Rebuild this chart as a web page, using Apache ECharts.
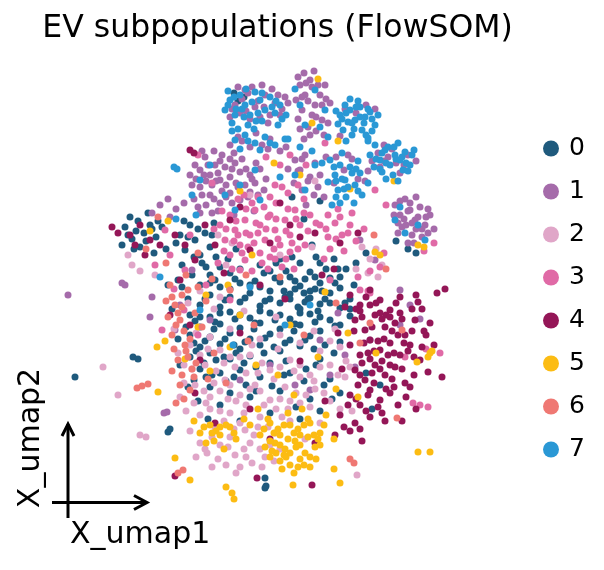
<!DOCTYPE html>
<html>
<head>
<meta charset="utf-8">
<script src="https://cdn.jsdelivr.net/npm/echarts@6/dist/echarts.min.js"></script>
<style>
  html, body { margin: 0; padding: 0; background: #fff; }
  #chart { width: 604px; height: 570px; }
</style>
</head>
<body>
<div id="chart"></div>
<script>
// cluster labels and colours (FlowSOM)
var clusterNames = ['0', '1', '2', '3', '4', '5', '6', '7'];
var clusterColors = ['#1f5a7d', '#a56baa', '#e0a6c8', '#e06aa6', '#941657', '#fcbc13', '#ef7873', '#2a98d5'];

// UMAP coordinates, one list per cluster
var pts0 = [
  [10,22],[12,22.2],[16,22.4],[18,21.8],[20,22.3],[22,21.7],
  [9,21],[11,20.8],[13,21.2],[15,20.8],[17,21.3],[19,20.9],[21,21.2],[23,20.7],
  [10,20],[12,19.8],[14,20.2],[16,19.6],[18,20.1],[20,19.7],[22,20.2],[24,19.6],
  [9,19],[11,18.8],[13,19.3],[15,18.9],[17,19.2],[19,18.6],[21,19.1],[23,18.7],
  [8,18],[10,17.8],[12,18.3],[14,17.7],[16,18.2],[18,17.6],[20,18.1],[22,17.5],[24,17.9],
  [9,16.8],[11,17.1],[13,16.7],[15,17.2],[17,16.6],[19,17],[21,16.4],
  [8,16],[10,15.8],[12,16.2],[14,15.6],[16,16.1],[18,15.5],[20,15.9],[23,15.3],
  [9,14.8],[11,15.1],[13,14.6],[15,15],[17,14.4],[19,14.9],
  [8,13.8],[10,14.2],[12,13.6],[14,13.9],[16,13.2],[21,13.6],
  [9,12.6],[11,12.2],[13,12.5],[15,11.8],[18,12.2],[22,11.6],[10,10.8],[12,10.2],[14,9.8],
  [17,10.4],[20,9.6],[23,10.2],[8.4,11.5],[11,9],[16,8.2],[19,7.6],[21,8.4],[13,7.4],
  [10.5,21.5],[12.5,21.6],[14.5,21.4],[16.5,21.7],[18.5,21.4],[20.5,21.8],[22.5,21.2],
  [9.5,19.6],[11.5,19.5],[13.5,19.7],[15.5,19.4],[17.5,19.8],[19.5,19.3],[21.5,19.6],[23.5,19.2],
  [8.5,17.4],[10.5,17.3],[12.5,17.6],[14.5,17.2],[16.5,17.5],[18.5,17.1],[20.5,17.3],[22.5,16.9],
  [9.5,15.4],[11.5,15.6],[13.5,15.3],[15.5,15.7],[17.5,15.2],[19.5,15.5],[21.5,15],
  [8.6,14.4],[10.6,13.5],[12.6,14.2],[14.6,12.8],[17.6,13.4],[19.6,12.6],[11.6,11.4],[13.6,11],[16.2,10.9],[9.6,11.8],
  [7.6,16.8],[7.8,19.6],[16.6,23.2],[18.2,23.8],[22.8,22.6],[20.2,25],[17.4,20.4],[19.4,20.2],[21.2,20.4],[15.4,22.2],
  [11,22.8],[13,22.6],[15,23],[17,23.6],[21,23.2],[23,21.8],[24.4,21],
  [10,21.2],[12,20.6],[14,21],[16,20.4],[18,19.6],[20,20.4],[22,19.2],[24,18.6],
  [9,17.8],[11,18.2],[13,18],[15,18.4],[17,18],[19,18.2],[21,17.8],[23,17],
  [8.4,15.2],[10.4,16.6],[12.4,15],[14.4,16.6],[16.4,14.8],[18.4,16.4],[20.4,14.6],[22.4,14.2],
  [9.4,13.2],[11.4,13.8],[13.4,13.2],[15.4,14.2],[17.4,12],[19.4,11.4],[21.4,11],[10.2,12],[12.4,11.8],[14.6,10.4],
  [18.6,8.8],[22.2,9.6],[20.6,13],
  [6.8,15.6],[7,13],[7.8,10.8],[8.8,9.4],[9.8,7.6],[7.2,20.8],[6.2,18.6],[5.8,21],
  [7,26],[7.5,24.5],[8,27],[8.5,25.5],[9,24],[9.5,26.2],[10,24.8],[7.2,23],[8.2,22],[9.6,22.8],[10.4,27.2],[6.8,21.5],
  [7.8,25.8],[8.8,26.6],[9.2,23.2],[10.2,26],[7.4,27.4],[8.4,23.8],[6.6,25.2],
  [1.5,26.8],[2.2,25.6],[2.8,27.4],[3.4,26.2],[4,27],[4.6,25.8],[5.2,26.8],[3,24.8],[1.2,25],[4.4,24.2],[2,27.8],[5.6,24.6],[3.8,28.2],
  [2.6,26.4],[3.6,25.4],[4.8,27.4],[1.8,26],[4.2,26.6],[2.4,24.6],
  [18.5,20.6],[19.5,21.6],[20.5,20.6],[19.8,19.6],[18.8,18.8],[20.8,18.4],[17.6,22.4],[21.6,22.6],[19,23.2],[20.6,23.8],
  [11.8,23.6],[12.6,24.6],[10.6,23.8],[22.4,23.6],[23.6,22.6],[24.6,23.2],[25.6,24.2],
  [29.8,24.6],[30.6,24.2],[28.6,25.4],[12.8,39.4],[13.4,39.8],[12.4,40.2],[19.4,27.6],[21,29.4],[18.2,29.8],
  [2.3,13.8],[2.8,13.6],[5.8,6.3],[6,6.6],[15.5,0.7],[15.6,0.9],[15.5,1.7],[-3.5,11.8],
  [25.6,12.2],[27,11],[26.2,8.6]
];
var pts1 = [
  [12.5,39],[13.5,40.5],[14.5,38.8],[15.5,40],[16.5,39.2],[17.5,39.8],[13,38.2],[15,37.8],[16,38],[14,37.6],[12,37.8],
  [13.2,39.6],[14.8,39.4],[16.2,40.6],[17.2,38.6],[12.8,40.8],[15.8,37.2],[14.2,40.8],
  [13.8,40.2],[15.2,41],[16.8,40],[17.8,39.2],[12.2,38.6],[13.6,38.4],[15.4,38.8],[17,38],
  [19,41],[19.5,40],[20,41.5],[20.5,39],[21,40],[21.5,41],[19.2,38.5],[20.2,38],[21.2,37.5],[19.8,36.8],[18.6,39.5],[22,39.2],[20.6,36.4],[19.4,35.6],
  [18.8,41.8],[19.6,41.2],[20.8,41],[21.6,39.6],[19.8,39.4],[20.6,37.8],[18.8,37.6],[21.8,37.2],[19.4,42.2],[20.4,42.4],
  [19.2,39.8],[20.2,40.8],[21.2,39],[20,36],[21.4,36],[19,36.6],
  [23.5,38.6],[24.6,38.2],[25.6,39],[23,35.9],[26.5,38.6],
  [12,35],[13.2,35.4],[14,34.8],[15.2,35],[16,35.6],[17,34.4],[14.6,36.2],[12.8,35.8],[15.8,34.6],[17.6,34.8],
  [26.8,34.2],[27.8,33.8],[28.6,33.2],[29.8,34],[27,32.8],[29,32.2],[30.6,33.4],[27.4,33.4],[28.2,34.6],[29.4,33],[26.2,33.4],
  [25.8,32.4],[23.8,34],[27.4,35],
  [8,32],[8.5,33],[9,32.5],[9.5,33.8],[10,32],[10.5,33],[11,31.5],[11.5,32.8],[12,31.8],[12.5,33.2],[13,32.3],[13.5,31],
  [14,32],[14.5,31.2],[15,32.6],[9,30.8],[10,30],[11,29.2],[12,30.2],[13,29.5],[14,30.3],[9.6,29],[10.8,28.4],[8.4,29.6],
  [15.4,30.5],[12.4,34.2],[11.2,34],[10.4,34.4],
  [8.6,31.6],[9.4,32],[10.6,31.4],[11.6,31],[12.6,31.2],[13.6,32.6],[14.6,33.2],[9.8,33],[11,33.4],[12.2,32.6],[10.4,29.6],
  [11.6,29.8],[12.8,30.8],[13.8,29.8],[8.8,28.8],[9.2,34.4],[14.8,30],
  [8.2,31],[9.2,30],[10.2,31],[11.2,30.4],[12.2,29.2],[13.2,33.6],[14.2,31.6],[10.8,32.2],[9.6,31.4],[12,33.6],[15.6,31.6],
  [9,28.2],[10.2,28.2],[12.4,28],[14.4,28.4],
  [18.5,33.5],[19,32.5],[19.5,34],[20,31.8],[20.5,33.2],[19.2,30.5],[20.4,30],[18.4,31.2],[21,32],[21.4,29.8],[19.6,29],
  [18.8,32.4],[19.8,31.4],[20.8,30.8],[19.2,33.6],[21.6,33.8],[17.8,32.6],
  [22.6,33.8],[23.4,32.5],[24.2,33.6],[24.8,31.6],[22.4,31.2],[25.5,31.4],
  [28.5,29],[29,28],[29.5,29.6],[30,28.5],[30.5,27.5],[31,28.8],[31.5,27],[29.2,26.8],[30.2,26],[31.2,25.8],[28.8,26.2],
  [32,28],[30.6,29.8],[29.8,25.2],[31.8,26.2],
  [29,29.4],[29.8,28.4],[30.8,27.8],[31.2,26.6],[30.2,27.2],[29.4,27.6],[31.8,28.6],[32.4,26.6],[28.4,28],[30.4,25.2],
  [29.6,27],[30.6,26.6],[31.6,27.8],[28.8,27.2],[30,29.2],
  [5,29],[5.8,29.6],[6.6,28.6],[7.4,29.2],[4.2,28.2],[6,27.8],
  [7,19],[6.5,16.5],[18.5,11],[20,10.5],[22,12],[23.5,14],[21,15.5],[24.5,12.8],[16,13],[13,11.5],[10,17.5],[26,15.5],
  [29,17],[31,17.6],[22.8,18.2],[8.2,22.5],[26.5,23.5],[25,25.5],
  [-4.2,20],[1.5,21],[1.2,21.2],[5.7,8.3],[5.4,8.2],[4.2,19.8],[4,17.8],[29,20.5],[30,19]
];
var pts2 = [
  [8,15],[9.5,13],[11,14.5],[12.5,12.8],[14,14],[16,12.5],[18,13.5],[20,12],[22,13],[8.5,11],[10,9.8],[11.5,11.5],
  [13,10],[14.5,11],[16,9.5],[17.5,10.8],[19,9.2],[20.5,10.6],[22,9.4],[23.5,11.8],[9,8],[10.5,6.8],[12,8.2],[13.5,6.5],
  [15,7.8],[16.5,6.2],[18,7.4],[11,5],[12.5,4],[14,5.2],[15.5,3.8],[17,4.6],[13,2.8],[9.5,4.6],[10,15.8],[12,16.6],
  [15,15.6],[17,16],[19,15.2],[21,14.4],[23,14.8],[24,12.8],[7.4,13],[7,9.8],[21,7.2],[19.5,5.6],[6.4,16.6],[7.8,19.2],
  [9,20.4],[11,19.8],[13.4,18.4],[16.6,17.8],[22.5,16.6],[24.2,8.4],
  [9,14],[10.6,12.4],[12,13.8],[13.6,12.2],[15.2,13.2],[17,12.8],[19,13],[21,12.8],[9.4,10.4],[11,10.4],[12.6,9.4],[14,10.6],
  [15.4,9],[17,9.6],[18.6,10.2],[20,8.8],[21.4,10.2],[10,8.6],[11.4,7.4],[13,7.2],[14.4,6],[15.8,6.8],[17.2,7.8],[12,5.8],
  [13.4,4.6],[15,4.6],[16.4,3.4],[10.2,5.8],[14.2,3.2],[8.2,12.6],[22.8,12],[23,8.6],
  [9.8,14.6],[11.4,13.2],[13,13.8],[14.8,12.2],[16.4,11.6],[18.4,12.4],[20.4,11.4],[10.4,11.2],[12,11],[13.6,9],[15,10.4],
  [16.6,8.6],[18,9.4],[19.6,10],[11,8.4],[12.4,6.6],[14.8,6.8],[16,5],[13.6,3.8],[11.8,4.8],[10.8,3.6],[15.2,2.8],[17.8,8.6],[19,11.8],
  [7.6,8.4],[8.4,9.2],[8,6.4],[9,5.2],[8.6,3.8],[10.2,2.8],[11.6,3],[12.6,2.2],[7.4,11.2],[9.6,9.2],[11.8,9.6],[13.4,8.2],
  [6.8,14.2],[8.6,16.2],[10.4,18.6],[14.2,15],[20.4,16.4],[22,15.4],[23.6,13.4],[16.8,14.6],
  [25.2,24.8],[26,23.6],[26.6,24.6],[27.2,23],[25.8,22.2],[26.8,21.8],[24.6,22.6],
  [10.8,26],[12.2,25.2],[11.6,23],[3,22.4],[4.5,22],[2.2,23],[1.8,24],[17,24],[20.2,24.8],[14,30],[20.5,31.4],
  [0.8,10],[9.7,4.2],[24.7,2],[3,6],[3.6,5.8],[-0.7,12.8]
];
var pts3 = [
  [11,27],[11.5,25.5],[12,28],[12.5,26.5],[13,25],[13.5,27.5],[14,26],[14.5,28.5],[15,27],[15.5,25.5],[16,28],[16.5,26.5],
  [17,25],[17.5,27.5],[18,26],[18.5,28.5],[12,24],[13.5,23.5],[15,24.2],[16.5,23.6],[18,24.3],[14.2,29.2],[16,29.8],
  [17.8,30.2],[19,27],[19.5,25],[10.8,23.2],[12.8,29.6],[15.8,22.6],[13,22.5],[17.2,22.8],[19.4,29.6],[20,28],[18.8,31],
  [11.6,26.6],[12.6,27.4],[13.6,26.2],[14.6,27.2],[15.6,26.6],[16.6,27.6],[17.6,26.4],[12.4,25.4],[14.4,25.2],[16.4,24.6],
  [18.2,25.2],[11.4,24.4],[13.2,24.2],[15.2,23.2],[17.6,23.6],[14.8,29.8],[16.6,29.2],[13.6,28.6],[18.6,27.6],[19.8,26.4],
  [21.6,26.6],[22.6,25.6],[23.8,26.2],
  [11.2,28.4],[12.8,26],[13.8,24.8],[14.8,26.2],[15.8,27.8],[16.8,25.6],[17.8,28.6],[18.8,24.6],[13.4,30],[15.4,28.8],
  [17.2,30.8],[19.4,28.2],[20.6,27.2],[21.8,28],[23,27.8],[12.2,22.6],[14.2,22.4],[16,23.8],[10.4,26.6],[18.4,22.6],
  [21,27],[21.8,25.8],[22.5,27.2],[23.2,26],[24,27],[24.6,25.4],[22,24.6],[23.4,24.4],[25.4,26.6],[21.4,23.6],[24.2,28.2],[22.8,28.6],
  [26,22.4],[27,22.8],[27.4,24.2],
  [18,34],[19.6,33],[17,33],[15.6,33.8],[16.5,31],[10.2,31.2],[8.8,34],[21.5,35.2],[26.5,30.5],[27.6,29],[31.4,24.4],[32.4,25.2],
  [6,24],[7.5,22.5],[4.5,23],[8,26],[5.5,26.5],
  [7.4,18.5],[6.4,20.6],[8.8,16],[12,19.5],[22,21.5],[26,20.2],[29.5,13.8],[31.6,14.6],[33,14.2],[5.2,16.5],[24.8,21.8],[9.6,21],
  [25,20.5],[25.8,20.4],[30.3,9.2],[31,9],[31.8,8.8]
];
var pts4 = [
  [24,20],[25,19],[26,20.5],[27,19.5],[28,18.5],[29,19.8],[24.5,17.5],[25.5,16.5],[26.5,18],[27.5,16.8],[28.5,17.2],[29.5,16],
  [30.5,17.5],[24,15],[25,14],[26,15.5],[27,14.5],[28,15.2],[29,14],[30,15],[31,13.5],[24.5,12.5],[25.5,11.5],[26.5,13],
  [27.5,12],[28.5,12.8],[29.5,11.2],[24,10],[25,9],[26,10.5],[27,9.5],[28,10.2],[23,8],[24.5,7.2],[26,7.8],[27.5,7.4],
  [22.5,6],[25.2,5.4],[29.6,9.8],[30.4,12],[31.4,16.4],[32.4,15],[33.2,11.8],[23.5,18.8],[22.8,16.2],
  [24.6,18.6],[25.6,19.8],[26.6,19.2],[27.6,18],[28.6,19.2],[25.2,17.8],[26.2,16.8],[27.2,17.6],[28.2,16.4],[29.2,17.6],
  [30.2,16.4],[25.4,15.2],[26.4,14.4],[27.4,15.6],[28.4,14.2],[29.4,15.2],[30.4,13.8],[25.2,13.2],[26.2,12.2],[27.2,13.4],
  [28.2,11.6],[29.2,12.6],[24.8,11],[26.4,11.2],[27.6,10.6],[25.6,8.4],[26.8,8.8],[28.8,9],[23.8,9],[24,6.4],[30,10.8],[31.2,14.8],
  [25,18.4],[26,19],[27,18.2],[28,17.8],[29,18.2],[24.4,16.4],[25.8,14.2],[26.8,15.4],[27.8,14],[28.8,16],[29.8,14.4],
  [25,12],[26,13.6],[27,12.6],[28,13],[24.6,9.6],[25.8,10],[27.2,8.2],[28.4,10.8],[23.2,12.6],[30.2,18.6],[23.4,6.8],[25,6.6],
  [30.6,20],[31.2,18.6],[32,17.2],[31.6,16],[30.6,8.6],[29.2,7.4],
  [12,27.5],[14,24.5],[16,25.2],[18,27],[13,28.8],[17,29.2],[19,25.8],[20.5,26.2],[23,25.2],[24.8,26.2],[22.4,22.6],[21.2,22],
  [10.5,25],[11.4,22.2],
  [2,26],[3,27],[4,25.5],[3.5,24],[2.5,25],[5,25],[6.5,26],[7.5,25],[8.5,23.5],[9.5,27],[0.8,26.2],
  [7,21.5],[6,18],[8,17],[9,13.5],[8.5,10.2],[10.5,7.2],[14,8.6],[16,5.6],[20.5,5.2],[21.5,9.4],[19,13.4],[13,16.2],
  [17.5,19.6],[15,21],
  [0.2,26.8],[8,34.5],[8.4,34.2],[32.7,20.2],[33.5,20.6],[30.8,19.3],[31.8,12.3],[14.7,1.7],[20.2,1],[6.5,1.9]
];
var pts5 = [
  [14,7],[15,6],[16,7.2],[17,6],[18,7],[19,6],[20,7.2],[21,6.2],[15.5,4.8],[16.5,5.2],[17.5,4.6],[18.5,5.4],[19.5,4.2],
  [20.5,4.8],[17,3.4],[18,3],[19,3.6],[16,3.8],[20,2.8],[17.8,8.2],[19.2,8.6],[21.6,8],[22.4,5.6],[14.8,8.6],[18.4,2.2],[17.2,2.6],
  [15.4,6.6],[16.4,6.2],[17.4,7],[18.4,6.2],[19.4,7],[20.4,6],[16,5.4],[17,5],[18,4.2],[19,5],[20,3.8],[17.6,3.8],[18.8,2.8],
  [21,5],[16.6,4.2],[19.8,5.8],
  [15.8,7.6],[16.8,6.6],[17.8,5.6],[18.8,6.6],[19.8,7.6],[20.8,5.6],[16.2,4.4],[17.4,4],[18.6,4.8],[19.4,3],[20.6,3.6],[21.4,7],
  [9,6.2],[10,7],[11,6],[12,6.8],[9.6,5.2],[12.6,5.6],[8.4,7.4],[13.4,7.6],[11.4,4.6],[9.4,6.8],[10.6,6.4],[11.6,7],[10.4,5.4],
  [11,6.8],[12.4,6.2],[10.2,6.2],
  [11.6,0.8],[12.2,0.2],[12.4,-0.4],[8,1.5],[18.3,1],[22.4,2.6],[23,1.2],[31.8,13.8],[32.2,14.4],[30.7,13.3],[32,14.2],
  [30.8,4.3],[32,4.3],
  [10,12.4],[12,14.8],[14.6,13],[16.8,12],[18.4,10],[20.8,13.8],[22.6,10.6],[24.8,9.8],[8.8,16.8],[13,18],[18,17],
  [21.5,20.3],[23.8,16.2],[26.6,14.2],[11.8,21],[7.5,13.6],[9.6,20],[5.5,15.4],
  [14.2,24],[13,30.4],[19,32],[24,30.6],[30.8,25],[31.4,24.8],[28.4,31.4],[4,26.4],[5.8,27.4],[26.5,24.3],[27,24],
  [16.4,33.2],[22.8,35.4],[20.2,37.2],[20.8,41.6],
  [4.7,14.8],[4.8,10.3],[6.5,3.7]
];
var pts6 = [
  [6.5,19],[7,17.5],[6.2,16],[7.5,15],[6.8,13.5],[7.2,12],[8,10.5],[6.6,9.2],[8.5,18.2],[7.8,20.5],[9.2,16.8],[8.6,13.2],
  [9.8,11.6],[7.6,22],[6,21],[8.8,24.2],[9.6,19.4],[10.4,14.2],[5.6,23.2],[10.2,21.6],
  [6.8,18.2],[7.4,16.4],[6.4,14.6],[7.8,13.8],[7,11],[8.4,11.8],[7.2,20],[8,15.6],
  [7.2,18.8],[6.6,17],[7.6,14.4],[8.2,12.6],[6.2,19.8],[8.8,20.8],[5.8,17.8],[6.2,12.4],[7.4,9.6],[5.6,19.4],
  [12,20.5],[13.6,22],[14.4,17],[17,21.8],[19.4,16],[22.6,19.2],[25,15.2],[26,17.2],[11.6,11.2],[13.8,15.4],[3.6,24.6],
  [4.8,27.8],[27.6,22.6],[26.4,26],
  [2.7,10.7],[3.2,10.9],[3.8,11.1],[6.8,2.2],[7.3,2.5],[24,3.6],[24.4,3.2],[28.7,7.7],[29.2,16.5]
];
var pts7 = [
  [11.5,38.5],[12,39.5],[12.5,38],[13,40],[13.5,39],[14,38],[14.5,40.3],[15,39.5],[15.5,38.5],[16,39.8],[16.5,38.2],[17,39],
  [12.2,37.2],[13.8,37],[15.2,37.4],[16.8,37],[14.2,39.3],[11.8,40.4],[17.6,38],[12.8,36.6],
  [11.8,39],[12.6,38.6],[13.4,37.8],[14.8,38.2],[16.2,38.8],[17.2,37.6],[12.2,36.4],[14.4,36.6],
  [12.4,39.8],[13.6,40.6],[15.2,40.2],[16.6,39.4],[13.2,38.6],[14.6,37.4],
  [19,39],[20.5,40.5],[21.5,38.5],[19.5,37],[21,36.8],[18.5,40.6],
  [23,38],[23.5,39],[24,38.5],[24.5,37.5],[25,38.8],[25.5,37.8],[26,38.3],[26.5,37],[23.3,36.5],[24.2,36],[25.2,36.5],
  [25.8,35.7],[24.8,39.4],[23.8,37.3],[26.2,36.4],[22.8,37.1],
  [23.2,37.6],[24.2,37.2],[24.6,38.8],[25.4,37.2],[26.2,37.6],[25.6,36],[23.6,35.4],[22.6,38.4],[26.8,38],
  [24,39.6],[25,37.8],[23.6,38.2],[25.8,38.6],[24.4,36.6],
  [12.5,35.5],[13.5,36],[14.5,35.2],[15.5,35.8],[16.5,35],[17.5,35.6],[13,34.6],[15,34.5],[13.8,35.4],[16,35.2],[21.8,35.8],
  [26,34],[26.5,35],[27,33.5],[27.5,34.5],[28,33],[28.5,34],[29,33.5],[29.5,34.3],[30,33],[27.2,32.3],[28.3,32],[29.3,32.5],
  [26.4,32.8],[30.4,34.5],[28.8,35.2],[25.8,35.4],
  [26.6,33.6],[27.6,33.2],[28.6,33.6],[29.6,33.2],[27.8,34.8],[30.2,34],[28.8,31.4],[27.6,31.6],
  [27.2,34.2],[28.4,34.8],[29.2,33.8],[27,32.6],[29.8,32.4],
  [22,33.5],[22.5,32],[23,33],[23.5,31.5],[24,32.8],[24.5,31],[25,32.2],[22.8,30.5],[23.6,29.8],[24.4,29.2],[22.2,29],
  [25.2,30],[21.8,31.3],[23.2,34.2],
  [22.4,32.8],[23.2,31.6],[24.2,32.2],[24.8,30.4],[23.4,30.6],[22.6,29.8],[24.8,33.4],[25.8,31.2],
  [22.6,31.4],[23.8,30.8],[24.6,32.6],[23,29.2],
  [19,34.8],[20.2,34.4],[21.2,33.2],[17.8,35.6],
  [10,33],[9,31.5],[11.5,30],[13,31],[14.5,32.5],[8.2,30],[12.5,28.5],[15,29.5],[18.5,32],[19.5,30.5],[20.5,33],[17,31.8],
  [8.6,28],[6.6,27.6],
  [28.5,27.5],[29.5,26.2],[30.8,27],[31.5,25.5],[29,28.8],[6.4,32.8],[6.7,32.6],
  [14,20.8],[17.5,17],[12.3,15],[20,19],[9,18.5],[5,21.8]
];

var clusterPts = [pts0, pts1, pts2, pts3, pts4, pts5, pts6, pts7];

var chart = echarts.init(document.getElementById('chart'));

var series = clusterNames.map(function (name, i) {
  return {
    name: name,
    type: 'scatter',
    data: clusterPts[i],
    symbolSize: 7,
    clip: false,
    itemStyle: { color: clusterColors[i], opacity: 1 },
    emphasis: { disabled: true }
  };
});

var option = {
  animation: false,
  backgroundColor: '#fff',
  grid: { left: 50, width: 480, top: 55, height: 460 },
  xAxis: { type: 'value', min: -6, max: 42, show: false },
  yAxis: { type: 'value', min: -2, max: 44, show: false },
  legend: {
    orient: 'vertical',
    left: 538,
    top: 131,
    itemWidth: 16,
    itemHeight: 16,
    itemGap: 18,
    icon: 'circle',
    selectedMode: false,
    data: clusterNames,
    textStyle: { fontSize: 25, lineHeight: 25, color: '#000', fontFamily: 'DejaVu Sans', padding: [0, 0, 0, 5] }
  },
  graphic: [
    { type: 'text', x: 277.5, y: 29,
      style: { text: 'EV subpopulations (FlowSOM)', font: '31.5px "DejaVu Sans"', fill: '#000', align: 'center', verticalAlign: 'middle' } },
    // axis arrows
    { type: 'polyline', shape: { points: [[68, 518], [68, 424]] }, style: { stroke: '#000', lineWidth: 3 } },
    { type: 'polyline', shape: { points: [[62, 436], [68, 424], [74, 436]] }, style: { stroke: '#000', lineWidth: 3, fill: null } },
    { type: 'polyline', shape: { points: [[52, 502.5], [147, 502.5]] }, style: { stroke: '#000', lineWidth: 3 } },
    { type: 'polyline', shape: { points: [[134, 495.5], [147, 502.5], [134, 509.5]] }, style: { stroke: '#000', lineWidth: 3, fill: null } },
    { type: 'text', x: 70, y: 535,
      style: { text: 'X_umap1', font: '30px "DejaVu Sans"', fill: '#000', align: 'left', verticalAlign: 'middle' } },
    { type: 'text', x: 31, y: 438, rotation: Math.PI / 2,
      style: { text: 'X_umap2', font: '30px "DejaVu Sans"', fill: '#000', align: 'center', verticalAlign: 'middle' } }
  ],
  series: series
};

chart.setOption(option);
</script>
</body>
</html>
